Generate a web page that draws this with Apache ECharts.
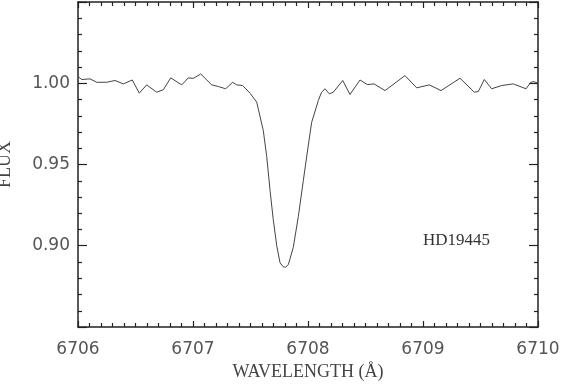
<!DOCTYPE html>
<html>
<head>
<meta charset="utf-8">
<script src="https://cdn.jsdelivr.net/npm/echarts@6/dist/echarts.min.js"></script>
<style>
  html, body { margin: 0; padding: 0; background: #fff; }
</style>
</head>
<body>
<div id="main" style="width: 561px; height: 384px;"></div>
<script>
// wavelength (Angstrom) and normalised flux
const wavelength = [
  6706.000, 6706.032, 6706.104, 6706.163, 6706.250, 6706.322, 6706.394, 6706.472,
  6706.533, 6706.597, 6706.684, 6706.742, 6706.806, 6706.902, 6706.959, 6707.003,
  6707.067, 6707.163, 6707.220, 6707.284, 6707.345, 6707.380, 6707.432, 6707.496,
  6707.554, 6707.611, 6707.641, 6707.670, 6707.698, 6707.728, 6707.757, 6707.785,
  6707.805, 6707.829, 6707.872, 6707.916, 6707.959, 6708.003, 6708.032, 6708.090,
  6708.118, 6708.148, 6708.185, 6708.220, 6708.302, 6708.365, 6708.452, 6708.516,
  6708.574, 6708.670, 6708.843, 6708.945, 6709.055, 6709.157, 6709.322, 6709.446,
  6709.481, 6709.533, 6709.597, 6709.684, 6709.785, 6709.896, 6709.937, 6709.965,
  6710.000
];
const flux = [
  1.0041, 1.0023, 1.0027, 1.0006, 1.0006, 1.0017, 0.9996, 1.0020,
  0.9939, 0.9990, 0.9945, 0.9960, 1.0033, 0.9990, 1.0033, 1.0030,
  1.0057, 0.9990, 0.9980, 0.9966, 1.0006, 0.9990, 0.9986, 0.9939,
  0.9884, 0.9710, 0.9550, 0.9340, 0.9160, 0.9000, 0.8895, 0.8870,
  0.8868, 0.8884, 0.8990, 0.9180, 0.9400, 0.9620, 0.9760, 0.9894,
  0.9945, 0.9966, 0.9935, 0.9945, 1.0017, 0.9931, 1.0020, 0.9992,
  0.9996, 0.9955, 1.0047, 0.9972, 0.9990, 0.9955, 1.0031, 0.9945,
  0.9949, 1.0023, 0.9966, 0.9986, 0.9996, 0.9966, 1.0006, 1.0010,
  1.0000
];
const starName = 'HD19445';
const xLabel = 'WAVELENGTH (Å)';
const yLabel = 'FLUX';

var chartDom = document.getElementById('main');
var myChart = echarts.init(chartDom);

const axisColor = '#222';
const labelFont = {
  fontFamily: 'DejaVu Sans',
  fontSize: 17,
  color: '#555'
};

// shared look for the box axes (ticks point inwards on all four sides)
function boxAxis(extra, majorLen) {
  return Object.assign({
    type: 'value',
    axisLine: { show: true, onZero: false, lineStyle: { color: axisColor, width: 1.5 } },
    axisTick: { show: true, inside: true, length: majorLen, lineStyle: { color: axisColor, width: 1.2 } },
    minorTick: { show: true, length: 4, lineStyle: { color: axisColor, width: 1.2 } },
    splitLine: { show: false },
    minorSplitLine: { show: false }
  }, extra);
}

var option = {
  animation: false,
  backgroundColor: '#fff',
  grid: { left: 78, right: 23, top: 2, bottom: 57, containLabel: false, outerBoundsMode: 'none' },
  xAxis: [
    boxAxis({
      position: 'bottom', min: 6706, max: 6710, interval: 1,
      minorTick: { show: true, splitNumber: 10, length: 4, lineStyle: { color: axisColor, width: 1.2 } },
      axisLabel: Object.assign({ margin: 14, formatter: v => String(v) }, labelFont),
      name: xLabel, nameLocation: 'middle', nameGap: 36,
      nameTextStyle: { fontFamily: 'Liberation Serif', fontSize: 18, color: '#444' }
    }, 6),
    boxAxis({
      position: 'top', min: 6706, max: 6710, interval: 1,
      minorTick: { show: true, splitNumber: 10, length: 4, lineStyle: { color: axisColor, width: 1.2 } },
      axisLabel: { show: false }
    }, 6)
  ],
  yAxis: [
    boxAxis({
      position: 'left', min: 0.85, max: 1.05, interval: 0.05,
      minorTick: { show: true, splitNumber: 5, length: 4, lineStyle: { color: axisColor, width: 1.2 } },
      axisLabel: Object.assign({
        margin: 8, showMinLabel: false, showMaxLabel: false,
        formatter: v => v.toFixed(2)
      }, labelFont),
      name: yLabel, nameLocation: 'middle', nameGap: 64, nameRotate: 90,
      nameTextStyle: { fontFamily: 'Liberation Serif', fontSize: 18, color: '#444' }
    }, 9),
    boxAxis({
      position: 'right', min: 0.85, max: 1.05, interval: 0.05,
      minorTick: { show: true, splitNumber: 5, length: 4, lineStyle: { color: axisColor, width: 1.2 } },
      axisLabel: { show: false }
    }, 9)
  ],
  graphic: [
    {
      type: 'text', left: 423, top: 232,
      style: { text: starName, font: '17px "Liberation Serif"', fill: '#333' }
    }
  ],
  series: [
    {
      type: 'line',
      xAxisIndex: 0,
      yAxisIndex: 0,
      data: wavelength.map((w, i) => [w, flux[i]]),
      showSymbol: false,
      symbol: 'none',
      lineStyle: { color: '#444', width: 1 }
    }
  ]
};

option && myChart.setOption(option);
</script>
</body>
</html>
